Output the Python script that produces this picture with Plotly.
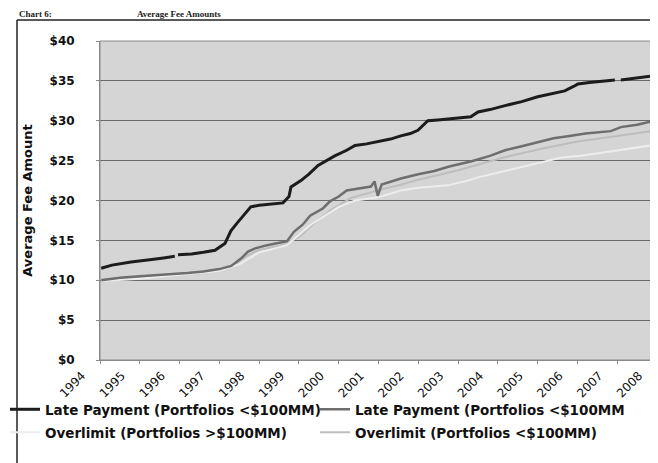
import plotly.graph_objects as go

# ---- data (decimal years, average fee in $) ----
year_ticks = [1994, 1995, 1996, 1997, 1998, 1999, 2000, 2001, 2002, 2003, 2004, 2005, 2006, 2007, 2008]
year_labels = [str(y) for y in year_ticks]

late_big_x = [1994.03, 1994.3, 1994.78, 1995.0, 1995.3, 1995.6, 1995.88, 1995.92, 1995.96, 1996.3, 1996.6,
              1996.89, 1997.14, 1997.29, 1997.45, 1997.64, 1997.79, 1998.0, 1998.22, 1998.6, 1998.75,
              1998.8, 1999.05, 1999.25, 1999.48, 1999.7, 1999.9, 2000.2, 2000.41, 2000.7, 2000.98,
              2001.3, 2001.56, 2001.8, 2001.99, 2002.15, 2002.24, 2002.49, 2002.9, 2003.32, 2003.5,
              2003.8, 2004.18, 2004.6, 2005.0, 2005.4, 2005.68, 2005.9, 2006.01, 2006.3, 2006.6,
              2006.94, 2007.0, 2007.09, 2007.4, 2007.6, 2007.85, 2008.0, 2008.15]
late_big_y = [11.5, 11.9, 12.3, 12.4, 12.6, 12.8, 13.0, None, 13.2, 13.3, 13.5,
              13.75, 14.6, 16.2, 17.2, 18.4, 19.2, 19.4, 19.5, 19.7, 20.5,
              21.7, 22.5, 23.3, 24.4, 25.0, 25.6, 26.3, 26.9, 27.1, 27.4,
              27.7, 28.1, 28.4, 28.8, 29.6, 30.0, 30.1, 30.3, 30.5, 31.1,
              31.4, 31.9, 32.4, 33.0, 33.4, 33.75, 34.3, 34.6, 34.8, 34.9,
              35.1, None, 35.1, 35.3, 35.4, 35.6, 35.5, 35.4]

late_small_x = [1994.03, 1994.5, 1995.0, 1995.38, 1996.2, 1996.6, 1997.0, 1997.3, 1997.55, 1997.72,
                1997.9, 1998.2, 1998.7, 1998.88, 1999.1, 1999.28, 1999.6, 1999.78, 2000.0, 2000.2,
                2000.5, 2000.81, 2000.9, 2000.98, 2001.08, 2001.56, 2002.0, 2002.4, 2002.8, 2003.32,
                2003.8, 2004.18, 2004.6, 2005.0, 2005.4, 2005.8, 2006.2, 2006.84, 2007.09, 2007.5,
                2007.85, 2008.12]
late_small_y = [10.0, 10.3, 10.5, 10.6, 10.9, 11.1, 11.4, 11.8, 12.75, 13.6,
                14.0, 14.4, 14.9, 16.1, 17.0, 18.1, 19.0, 19.9, 20.5, 21.25,
                21.5, 21.75, 22.4, 20.6, 22.0, 22.75, 23.3, 23.7, 24.3, 24.9,
                25.6, 26.3, 26.8, 27.3, 27.8, 28.1, 28.4, 28.7, 29.2, 29.5,
                29.9, 29.9]

over_big_x = [1994.03, 1995.0, 1996.0, 1997.0, 1997.5, 1998.0, 1998.22, 1998.7, 1999.28, 1999.7,
              2000.0, 2000.41, 2001.0, 2001.56, 2002.0, 2002.74, 2003.25, 2003.5, 2004.43, 2005.0,
              2005.6, 2006.09, 2007.0, 2007.5, 2008.12]
over_big_y = [9.9, 10.2, 10.7, 11.2, 12.0, 13.5, 13.75, 14.4, 16.9, 18.3,
              19.2, 20.0, 20.4, 21.25, 21.6, 21.9, 22.5, 22.9, 24.0, 24.6,
              25.4, 25.6, 26.3, 26.7, 27.1]

over_small_x = [1994.03, 1995.0, 1996.0, 1997.0, 1997.4, 1997.7, 1998.0, 1998.5, 1999.0, 1999.4,
                1999.8, 2000.3, 2001.0, 2001.5, 2002.0, 2003.0, 2004.0, 2005.0, 2006.0, 2007.0,
                2008.12]
over_small_y = [10.1, 10.4, 10.8, 11.3, 12.0, 13.1, 13.8, 14.3, 15.4, 17.2,
                18.8, 20.3, 21.3, 21.9, 22.6, 23.8, 25.2, 26.4, 27.4, 28.1,
                28.9]

series_names = ["Late Payment (Portfolios <$100MM)", "Late Payment (Portfolios <$100MM)",
                "Overlimit (Portfolios >$100MM)", "Overlimit (Portfolios <$100MM)"]
y_ticks = [0, 5, 10, 15, 20, 25, 30, 35, 40]
y_labels = ["$" + str(v) for v in y_ticks]

# ---- figure ----
fig = go.Figure()
fig.add_trace(go.Scatter(x=over_small_x, y=over_small_y, mode="lines", name=series_names[3],
                         line=dict(color="#bdbdbd", width=2), legend="legend2", legendrank=4))
fig.add_trace(go.Scatter(x=over_big_x, y=over_big_y, mode="lines", name=series_names[2],
                         line=dict(color="#ededed", width=2), legend="legend2", legendrank=3))
fig.add_trace(go.Scatter(x=late_small_x, y=late_small_y, mode="lines", name=series_names[1],
                         line=dict(color="#6e6e6e", width=2.5), legend="legend", legendrank=2))
fig.add_trace(go.Scatter(x=late_big_x, y=late_big_y, mode="lines", name=series_names[0],
                         line=dict(color="#1c1c1c", width=3), connectgaps=False,
                         legend="legend", legendrank=1))

L, T, W, H = 92, 33, 563, 319  # plot area in px

def px(xp):
    return (xp - L) / W

def py(yp):
    return (T + H - yp) / H

leg_font = dict(family="DejaVu Sans", size=13.5, weight="bold", color="#111111")
leg_common = dict(orientation="h", xanchor="left", yanchor="top", font=leg_font,
                  entrywidth=265, entrywidthmode="pixels", bgcolor="rgba(0,0,0,0)",
                  itemwidth=30, traceorder="normal")

fig.update_layout(
    width=658, height=463,
    margin=dict(l=L, r=658 - L - W, t=T, b=463 - T - H, autoexpand=False),
    paper_bgcolor="white", plot_bgcolor="#d5d5d5",
    font=dict(family="DejaVu Sans", color="#111111"),
    showlegend=True,
    legend=dict(x=px(-3), y=py(386), **leg_common),
    legend2=dict(x=px(-3), y=py(409), **leg_common),
    xaxis=dict(range=[1994, 2008.15], tickvals=year_ticks, ticktext=year_labels, tickangle=-45,
               tickfont=dict(family="DejaVu Sans", size=12, color="#111111"), ticklabelshift=-18,
               showgrid=False, zeroline=False, showline=True, linecolor="#8a8a8a", linewidth=1,
               ticks="outside", ticklen=3, tickcolor="#8a8a8a", automargin=False),
    yaxis=dict(range=[0, 40], tickvals=y_ticks, ticktext=y_labels,
               tickfont=dict(family="DejaVu Sans", size=12, weight="bold", color="#111111"),
               showgrid=True, gridcolor="#6a6a6a", gridwidth=1, zeroline=False,
               showline=True, linecolor="#8a8a8a", linewidth=1,
               ticks="outside", ticklen=3, tickcolor="#8a8a8a", ticklabelstandoff=19,
               automargin=False,
               title=dict(text="Average Fee Amount", standoff=13,
                          font=dict(family="DejaVu Sans", size=13, weight="bold", color="#111111"))),
)

# plot-area border and outer page frame
fig.add_shape(type="rect", xref="paper", yref="paper", x0=0, x1=1, y0=0, y1=1,
              line=dict(color="#8a8a8a", width=1), layer="above")
fig.add_shape(type="line", xref="paper", yref="paper", x0=px(9), x1=px(9), y0=py(12), y1=py(463),
              line=dict(color="#222222", width=1.5))
fig.add_shape(type="line", xref="paper", yref="paper", x0=px(9), x1=px(658), y0=py(12), y1=py(12),
              line=dict(color="#222222", width=1.5))

# page heading above the frame
fig.add_annotation(xref="paper", yref="paper", x=px(10), y=py(0), xanchor="left", yanchor="top",
                   text="Chart 6:", showarrow=False, borderpad=0,
                   font=dict(family="Liberation Serif", size=9, weight="bold", color="#222222"))
fig.add_annotation(xref="paper", yref="paper", x=px(128), y=py(0), xanchor="left", yanchor="top",
                   text="Average Fee Amounts", showarrow=False, borderpad=0,
                   font=dict(family="Liberation Serif", size=9, weight="bold", color="#222222"))

fig.write_html("out.html")
